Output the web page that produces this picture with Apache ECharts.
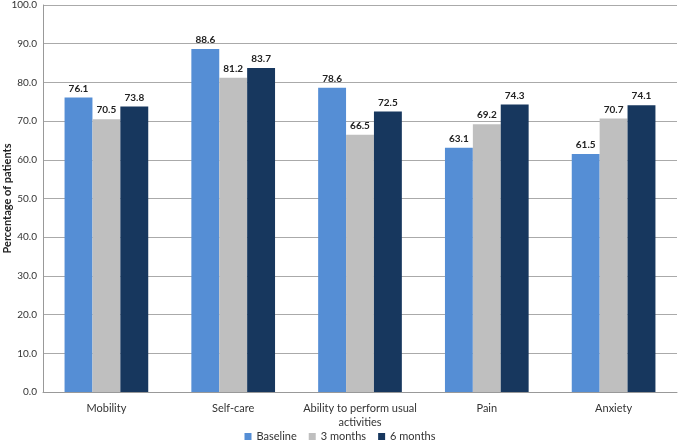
<!DOCTYPE html>
<html><head><meta charset="utf-8">
<script src="https://cdn.jsdelivr.net/npm/echarts@6/dist/echarts.min.js"></script>
<style>html,body{margin:0;padding:0;background:#fff}#c{width:680px;height:444px}</style>
</head><body><div id="c"></div>
<script>
var categories = ['Mobility', 'Self-care', 'Ability to perform usual\nactivities', 'Pain', 'Anxiety'];
var baseline = [76.1, 88.6, 78.6, 63.1, 61.5];
var months3 = [70.5, 81.2, 66.5, 69.2, 70.7];
var months6 = [73.8, 83.7, 72.5, 74.3, 74.1];
var seriesNames = ['Baseline', '3 months', '6 months'];
var colors = ['#558ED5', '#BFBFBF', '#17375E'];
var font = 'Lato, "Open Sans", sans-serif';
var chart = echarts.init(document.getElementById('c'));
function mk(name, data, color) {
  return {
    name: name, type: 'bar', data: data, barGap: '0%', barCategoryGap: '34%',
    itemStyle: { color: color },
    label: { show: true, position: 'top', distance: 4, fontWeight: 'bold', fontSize: 10, color: '#222', fontFamily: font,
      formatter: function (p) { return p.value.toFixed(1); } }
  };
}
chart.setOption({
  animation: false,
  textStyle: { fontFamily: font },
  grid: { left: 43, right: 3, top: 5, bottom: 52, containLabel: false, outerBoundsMode: 'none' },
  legend: {
    top: 431, left: 'center', itemWidth: 7, itemHeight: 7, itemGap: 12, padding: 0,
    icon: 'rect', textStyle: { fontSize: 11, color: '#333', fontFamily: font },
    data: seriesNames
  },
  xAxis: {
    type: 'category', data: categories,
    axisLine: { lineStyle: { color: '#999' } }, axisTick: { show: false },
    axisLabel: { fontSize: 11, color: '#333', margin: 9, lineHeight: 14, interval: 0 }
  },
  yAxis: {
    type: 'value', min: 0, max: 100, interval: 10,
    name: 'Percentage of patients', nameLocation: 'middle', nameGap: 30, nameMoveOverlap: false,
    nameTextStyle: { fontWeight: 'bold', fontSize: 11, color: '#222' },
    axisLine: { show: true, lineStyle: { color: '#999' } }, axisTick: { show: false },
    axisLabel: { fontSize: 10, color: '#333', margin: 6, formatter: function (v) { return v.toFixed(1); } },
    splitLine: { lineStyle: { color: '#aaa' } }
  },
  series: [mk(seriesNames[0], baseline, colors[0]), mk(seriesNames[1], months3, colors[1]), mk(seriesNames[2], months6, colors[2])]
});
</script></body></html>
